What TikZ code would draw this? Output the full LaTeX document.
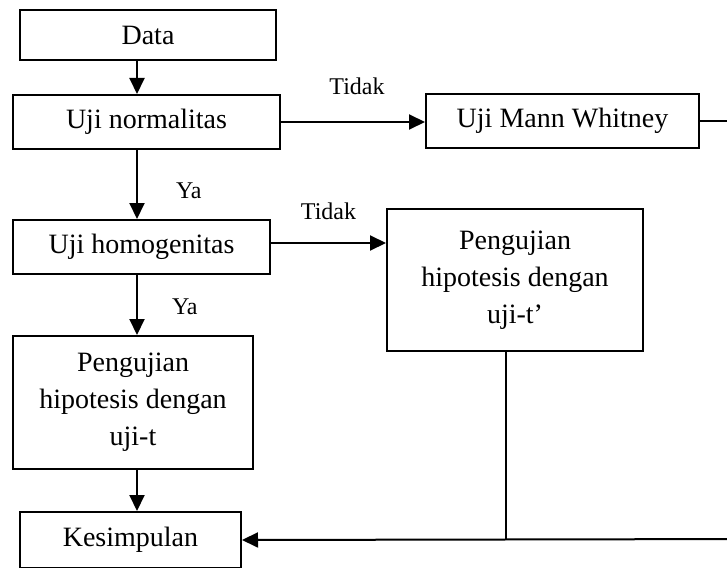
\documentclass[tikz,border=0pt]{standalone}
\usepackage{fontspec}
\setmainfont{Liberation Serif}
\usetikzlibrary{arrows.meta,positioning}
\tikzstyle{boxes} = [rectangle, draw=black, line width=1pt, inner sep=2pt, align=center,
font=\fontsize{14}{18.5}\selectfont]
\tikzstyle{arrow} = [line width=1pt, -{Triangle[length=8pt,width=7.5pt]}]
\tikzstyle{line} = [line width=1pt, -]
\tikzstyle{thinline} = [line width=0.6pt, -]
\tikzstyle{lbl} = [font=\fontsize{12}{14}\selectfont, inner sep=0pt]

\begin{document}
\begin{tikzpicture}[x=0.5pt, y=-0.5pt]
        \useasboundingbox (0,0) rectangle (727,567);
        \clip (0,0) rectangle (727,567);

        \node[boxes, minimum width=128pt, minimum height=25pt] (data) at (148,35) {Data};
        \node[boxes, minimum width=133.5pt, minimum height=27pt] (normal) at (146.5,122) {Uji normalitas};
        \node[boxes, minimum width=136.5pt, minimum height=27pt] (mann) at (562.5,121) {Uji Mann Whitney};
        \node[boxes, minimum width=128.5pt, minimum height=27pt] (homog) at (141.5,247) {Uji homogenitas};
        \node[boxes, minimum width=128pt, minimum height=71pt] (tprime) at (515,280) {Pengujian\\hipotesis dengan\\uji-t'};
        \node[boxes, minimum width=120pt, minimum height=66.5pt] (ttest) at (133,402.5) {Pengujian\\hipotesis dengan\\uji-t};
        \node[boxes, minimum width=110.5pt, minimum height=28pt] (kesim) at (130.5,540) {Kesimpulan};

        \coordinate (spine) at (137,0);
        \coordinate (hout) at (270,243);
        \coordinate (join) at (506,539);
        \coordinate (rt) at (760,121);
        \coordinate (rb) at (760,539);

        \draw[arrow] (data.south -| spine) -- (normal.north -| spine);
        \draw[arrow] (normal.east) -- node[lbl, above=13pt, xshift=2pt] {Tidak} (mann.west |- normal.east);
        \draw[arrow] (normal.south -| spine) -- node[lbl, pos=0.59, right=19pt] {Ya} (homog.north -| spine);
        \draw[arrow] (homog.east |- hout) -- node[lbl, above=11pt] {Tidak} (tprime.west |- hout);
        \draw[arrow] (homog.south -| spine) -- node[lbl, pos=0.53, right=17pt] {Ya} (ttest.north -| spine);
        \draw[arrow] (ttest.south -| spine) -- (kesim.north -| spine);

        \draw[thinline] (mann.east) -- (rt) -- (rb);
        \draw[line] (tprime.south -| join) -- (join);
        \draw[arrow] (rb) -- (kesim.east);

\end{tikzpicture}
\end{document}
